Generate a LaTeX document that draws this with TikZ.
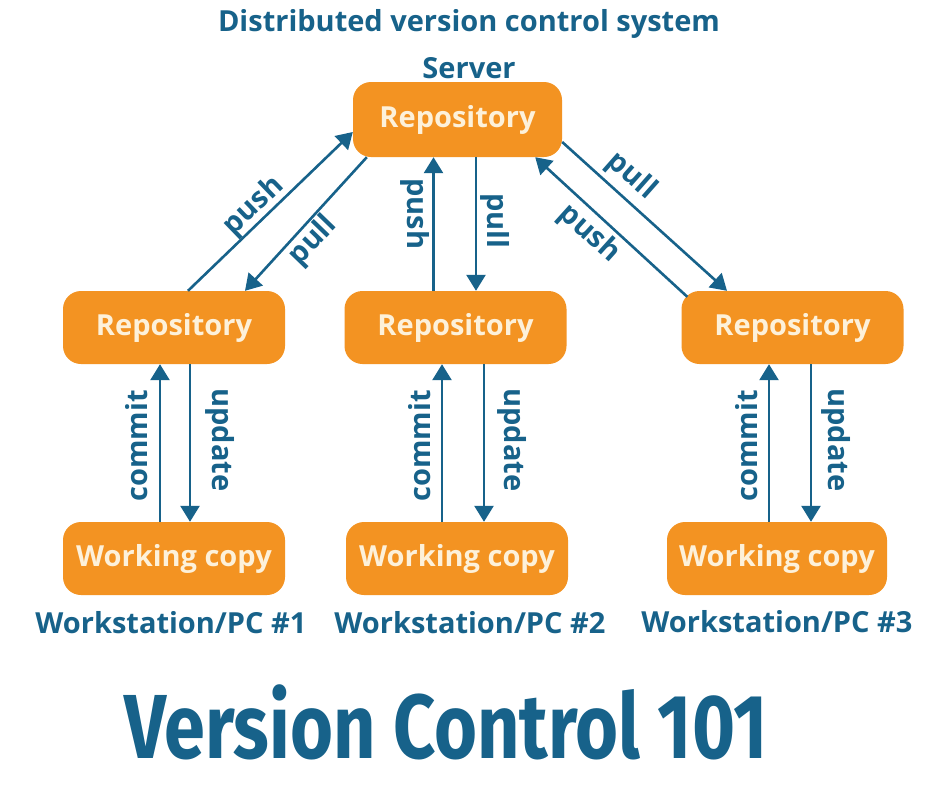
\documentclass[tikz,border=0pt]{standalone}
\usepackage{fontspec}
\setmainfont{Open Sans}
\newfontfamily\bigfont[FakeStretch=0.81]{Fira Sans}
\usetikzlibrary{arrows.meta}

\definecolor{vcorange}{HTML}{F39322}
\definecolor{vcblue}{HTML}{17628A}
\definecolor{vccream}{HTML}{FDF1DA}

\tikzset{
  repo/.style={rectangle, rounded corners=18pt, fill=vcorange, text=vccream,
    font=\bfseries\fontsize{29}{32}\selectfont, minimum width=222pt, minimum height=73pt, inner sep=0pt},
  flow/.style={draw=vcblue, line width=2.6pt, -{Triangle[length=16pt,width=19pt]}},
  lbl/.style={text=vcblue, font=\bfseries\fontsize{29}{32}\selectfont, inner sep=0pt},
}

\begin{document}
\begin{tikzpicture}[x=1pt, y=-1pt]
        \fill[white] (0,0) rectangle (940,788);
        \useasboundingbox (0,0) rectangle (940,788);
        \node[lbl] (title) at (469,24) {Distributed version control system};
        \node[lbl] (server) at (469,68) {Server};
        \node[repo, minimum width=209pt, minimum height=75pt] (srv) at (457.5,119.5) {Repository};
        \node[repo] (r1) at (174,327.5) {Repository};
        \node[repo] (r2) at (455.5,327.5) {Repository};
        \node[repo] (r3) at (792.5,327.5) {Repository};
        \node[repo] (wc1) at (174,558.5) {Working copy};
        \node[repo] (wc2) at (457,558.5) {Working copy};
        \node[repo, minimum width=220pt] (wc3) at (777,558.5) {Working copy};
        \node[lbl] (pc1) at (171,623) {Workstation/PC \#1};
        \node[lbl] (pc2) at (470,623) {Workstation/PC \#2};
        \node[lbl] (pc3) at (777,622) {Workstation/PC \#3};
        \node[text=vcblue, font=\bigfont\bfseries\fontsize{91}{94}\selectfont, anchor=base, inner sep=0pt] (big) at (446,758) {Version Control 101};
        % server links
        \draw[flow] ([xshift=14pt]r1.north) -- ([yshift=-12.5pt]srv.west);
        \draw[flow] ([xshift=14pt]srv.south west) -- ([xshift=71pt]r1.north);
        \draw[flow] ([xshift=-22pt]r2.north) -- ([xshift=-24pt]srv.south);
        \draw[flow] ([xshift=18.5pt]srv.south) -- ([xshift=20.5pt]r2.north);
        \draw[flow] ([yshift=-22.5pt]srv.east) -- ([xshift=-65.5pt]r3.north);
        \draw[flow] ([xshift=6pt,yshift=-6pt]r3.north west) -- ([xshift=-27pt]srv.south east);
        \node[lbl, rotate=44] (push1) at (254,206) {push};
        \node[lbl, rotate=46] (pull1) at (313,241) {pull};
        \node[lbl, rotate=-90] (push2) at (415,214) {push};
        \node[lbl, rotate=-90] (pull2) at (495,221) {pull};
        \node[lbl, rotate=-41.5] (pull3) at (631,176) {pull};
        \node[lbl, rotate=-42] (push3) at (589,234) {push};
        % workstation links
        \foreach \n/\a/\b/\c/\d/\p/\q in {1/-14/-14/16/16/137/220, 2/-15/-13.5/27/28.5/420/512, 3/-8/-23.5/34/18.5/747/836} {
          \draw[flow] ([xshift=\a pt]wc\n.north) -- ([xshift=\b pt]r\n.south);
          \draw[flow] ([xshift=\d pt]r\n.south) -- ([xshift=\c pt]wc\n.north);
          \node[lbl, rotate=90] (commit\n) at (\p,446) {commit};
          \node[lbl, rotate=-90] (update\n) at (\q,440) {update};
        }
      \end{tikzpicture}
\end{document}
